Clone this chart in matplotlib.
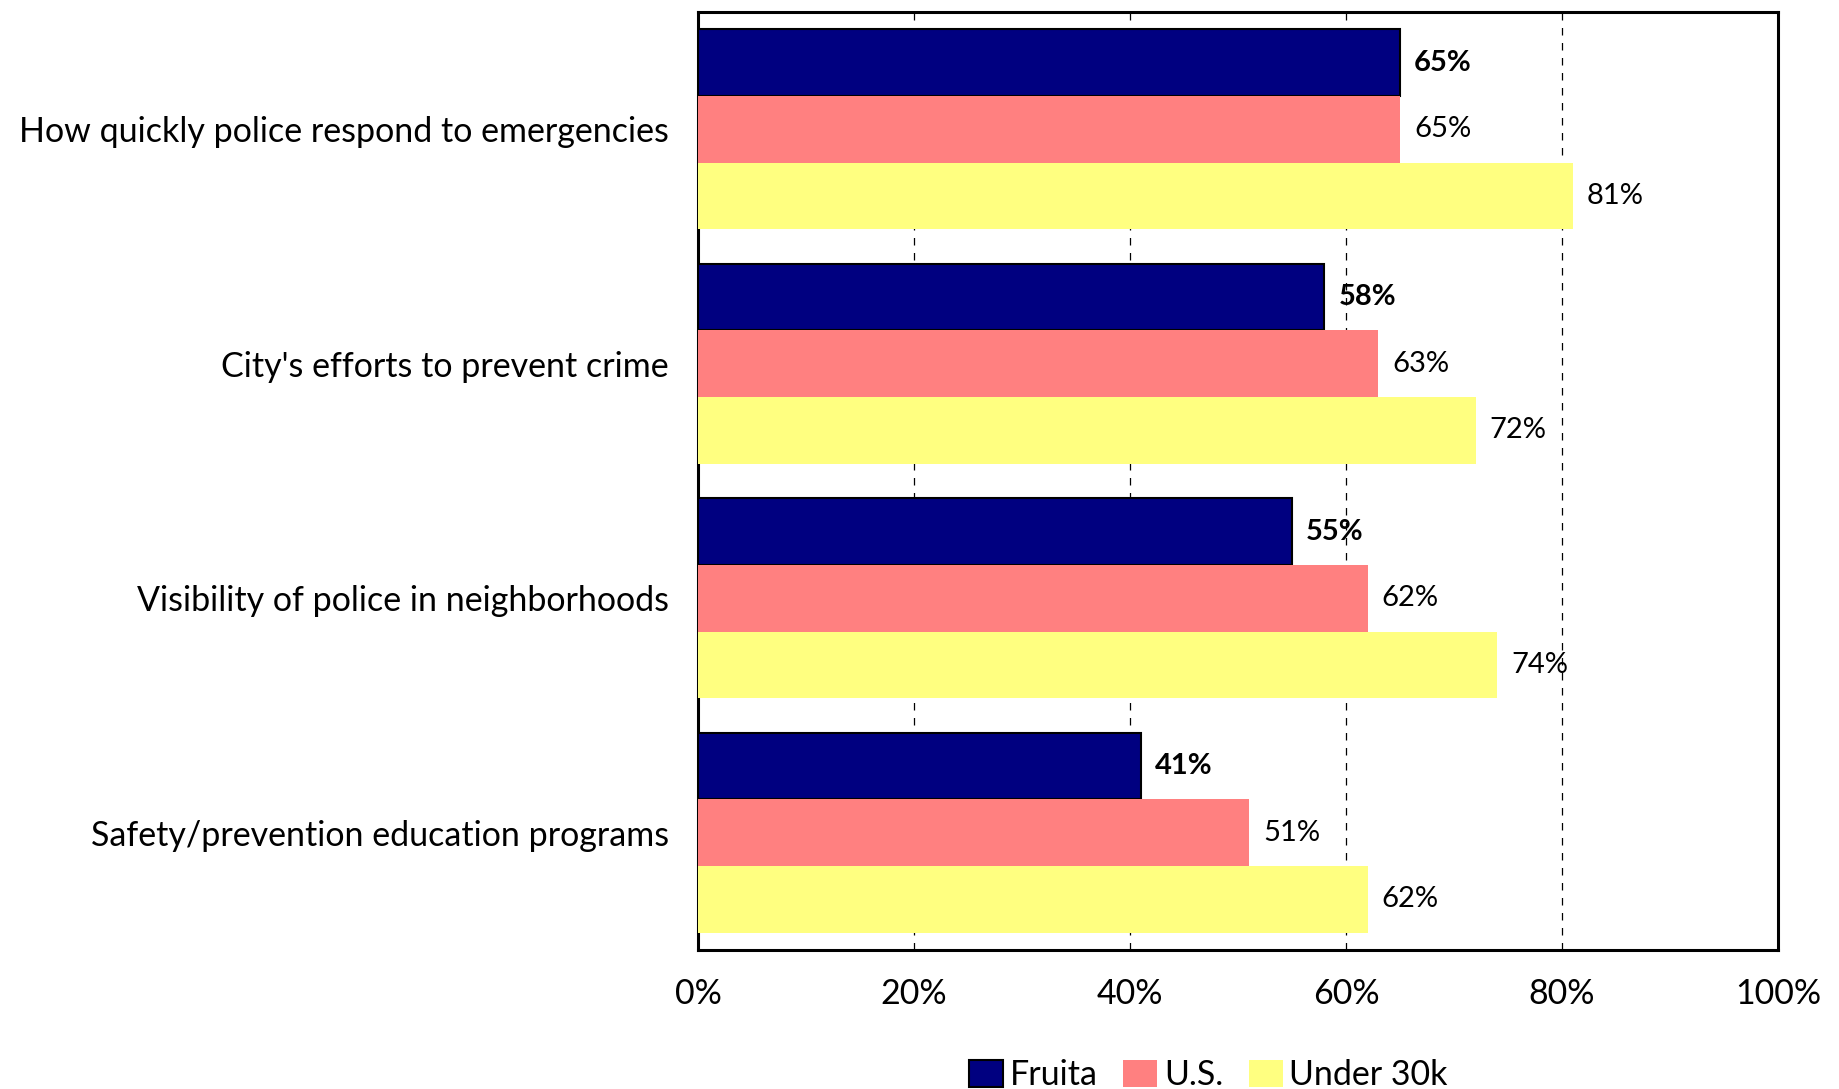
import matplotlib
matplotlib.use("Agg")
import matplotlib.pyplot as plt
import numpy as np

categories = ["How quickly police respond to emergencies",
              "City's efforts to prevent crime",
              "Visibility of police in neighborhoods",
              "Safety/prevention education programs"]
series_names = ["Fruita", "U.S.", "Under 30k"]
fruita = [65, 58, 55, 41]
us = [65, 63, 62, 51]
under30k = [81, 72, 74, 62]
xticks = [0, 20, 40, 60, 80, 100]
xtick_labels = ["0%", "20%", "40%", "60%", "80%", "100%"]

colors = ["#000080", "#FF8080", "#FFFF80"]
plt.rcParams['font.family'] = ['Lato', 'DejaVu Sans']

fig = plt.figure(figsize=(18.39, 10.89), dpi=100)
ax = fig.add_axes([698/1839, 1-950/1089, (1778-698)/1839, (950-12)/1089])

n = len(categories)
ypos = np.arange(n)
h = 0.284
data = [fruita, us, under30k]
for i, (vals, c, name) in enumerate(zip(data, colors, series_names)):
    yy = ypos + (i - 1) * h
    ax.barh(yy, vals, height=h, color=c, label=name,
            edgecolor="black" if i == 0 else "none",
            linewidth=1.5 if i == 0 else 0, zorder=3)
    for y, v in zip(yy, vals):
        ax.text(v + 1.3, y, f"{v}%", va="center", ha="left",
                fontsize=21, fontweight="bold" if i == 0 else "normal", zorder=4)

ax.set_ylim(n - 0.5, -0.5)
ax.set_xlim(0, 100)
ax.set_yticks(ypos)
ax.set_yticklabels(categories, fontsize=24.5)
ax.set_xticks(xticks)
ax.set_xticklabels(xtick_labels, fontsize=24.5)
ax.tick_params(axis='both', length=0)
ax.tick_params(axis='x', pad=20)
ax.tick_params(axis='y', pad=21)
ax.grid(axis='x', color='black', linestyle=(0, (6, 6)), linewidth=0.9, zorder=0)
for s in ax.spines.values():
    s.set_linewidth(2.2)

leg = fig.legend(loc='lower center', bbox_to_anchor=(0.657, -0.03), ncol=3, frameon=False,
                 fontsize=24.5, handlelength=1.0, handleheight=0.85, handletextpad=0.2,
                 columnspacing=0.75)

fig.savefig("out.png", dpi=100)
